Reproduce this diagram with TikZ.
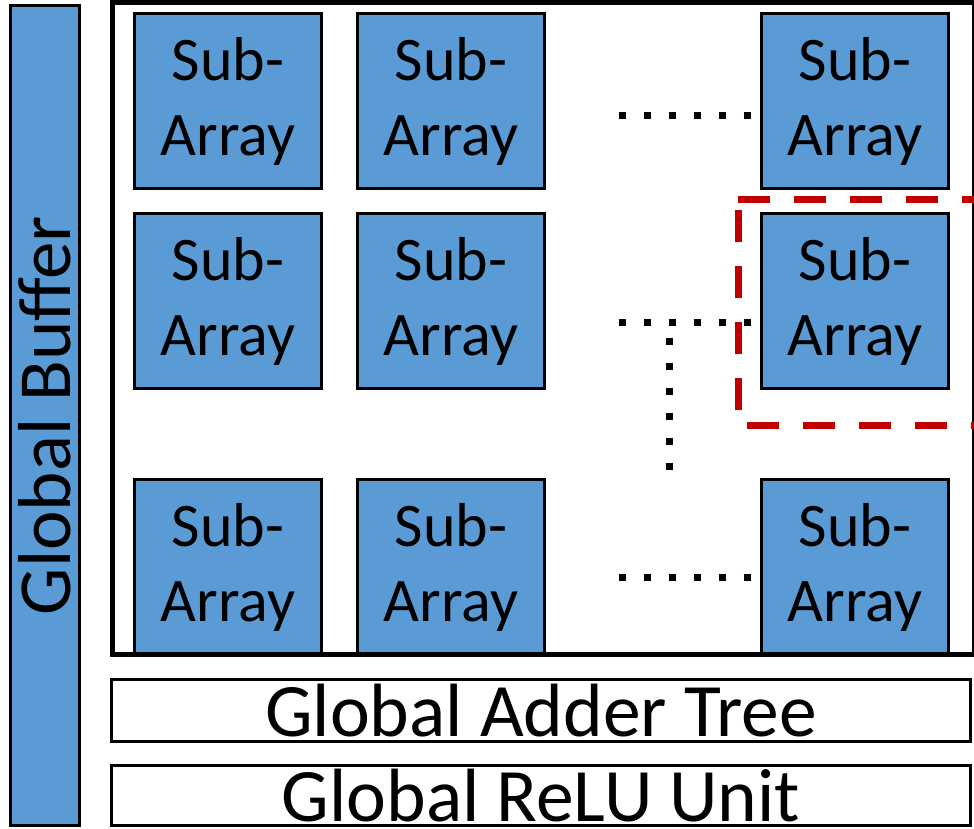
\documentclass[tikz,border=0pt]{standalone}
\usepackage{fontspec}
\setmainfont{Carlito}
\definecolor{subblue}{HTML}{5B9BD5}
\definecolor{dashred}{HTML}{C00000}
\begin{document}
\begin{tikzpicture}[x=1pt,y=-1pt,
  subarr/.style={draw=black,line width=3pt,fill=subblue,minimum width=187pt,minimum height=175pt,
    inner sep=0pt,align=center,font=\fontsize{62}{75}\selectfont},
  bar/.style={draw=black,line width=3pt,fill=white,minimum width=859pt,inner sep=0pt,
    font=\fontsize{75.5}{80}\selectfont},
  dotline/.style={line width=7pt,dash pattern=on 7pt off 18pt},
  sel/.style={draw=dashred,line width=7pt,dash pattern=on 32pt off 24pt}]
\useasboundingbox (0,0) rectangle (974,829);
\fill[white] (0,0) rectangle (974,829);
% Global buffer
\node[draw=black,line width=3pt,fill=subblue,rotate=90,minimum width=820pt,minimum height=69pt,
  inner sep=0pt,font=\fontsize{75}{80}\selectfont] (buf) at (45,415.5) {Global Buffer};
% sub-arrays
\node[subarr] (a11) at (228,101) {Sub-\\Array};
\node[subarr] (a12) at (451,101) {Sub-\\Array};
\node[subarr] (a13) at (855,101) {Sub-\\Array};
\node[subarr] (a21) at (228,301) {Sub-\\Array};
\node[subarr] (a22) at (451,301) {Sub-\\Array};
\node[subarr] (a23) at (855,301) {Sub-\\Array};
\node[subarr] (a31) at (228,567) {Sub-\\Array};
\node[subarr] (a32) at (451,567) {Sub-\\Array};
\node[subarr] (a33) at (855,567) {Sub-\\Array};
% frame
\draw[line width=5pt] (112,2.5) rectangle (974,654.5);
% dots
\coordinate (d1s) at (618.5,116); \coordinate (d1e) at (750.5,116);
\coordinate (d2s) at (618.5,322); \coordinate (d2e) at (750.5,322);
\coordinate (d3s) at (618.5,577); \coordinate (d3e) at (750.5,577);
\coordinate (dvs) at (669,337.5); \coordinate (dve) at (669,469.5);
\draw[dotline] (d1s) -- (d1e);
\draw[dotline] (d2s) -- (d2e);
\draw[dotline] (d3s) -- (d3e);
\draw[dotline] (dvs) -- (dve);
% selection (dashed outline around one sub-array)
\coordinate (st1) at (738,199.5); \coordinate (st2) at (1000,199.5);
\coordinate (sl1) at (738,210); \coordinate (sl2) at (738,426);
\coordinate (sb1) at (747,425.5); \coordinate (sb2) at (1000,425.5);
\draw[sel] (st1) -- (st2);
\draw[sel] (sl1) -- (sl2);
\draw[sel] (sb1) -- (sb2);
% bars
\node[bar,minimum height=62pt] (adder) at (541,710.5) {Global Adder Tree};
\node[bar,minimum height=60pt] (relu) at (541,795.5) {Global ReLU Unit};
\end{tikzpicture}
\end{document}
